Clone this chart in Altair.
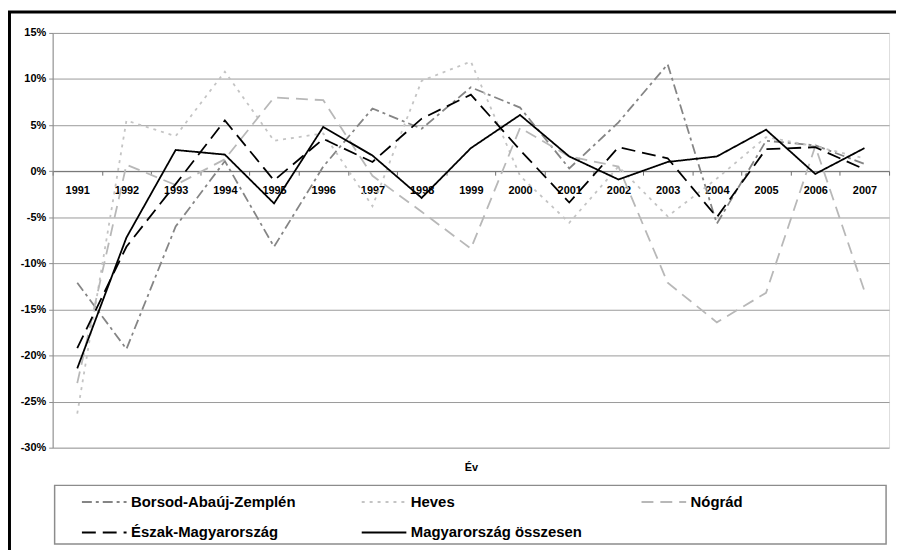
import altair as alt
import pandas as pd

years = ["1991", "1992", "1993", "1994", "1995", "1996", "1997", "1998", "1999",
         "2000", "2001", "2002", "2003", "2004", "2005", "2006", "2007"]

borsod = [-12.1, -19.3, -6.0, 1.1, -8.2, 0.5, 6.8, 4.6, 9.1, 6.9, 0.3, 5.3, 11.6, -5.7, 3.3, 2.8, 0.8]
heves = [-26.3, 5.5, 3.8, 10.8, 3.3, 4.1, -3.8, 9.8, 11.9, -0.5, -5.6, 0.5, -4.9, -0.8, 3.7, 2.7, 1.4]
nograd = [-23.0, 0.7, -1.5, 1.3, 8.0, 7.7, -0.5, -4.4, -8.4, 4.7, 1.6, 0.5, -12.1, -16.4, -13.2, 2.7, -13.0]
eszak = [-19.2, -8.2, -1.4, 5.5, -1.0, 3.5, 1.0, 5.7, 8.3, 2.3, -3.4, 2.6, 1.4, -5.0, 2.4, 2.6, 0.2]
orszag = [-21.4, -7.2, 2.3, 1.8, -3.5, 4.8, 1.7, -2.9, 2.5, 6.1, 1.6, -0.9, 1.0, 1.6, 4.5, -0.3, 2.5]

series_names = ["Borsod-Abaúj-Zemplén", "Heves", "Nógrád",
                "Észak-Magyarország", "Magyarország összesen"]
series_values = [borsod, heves, nograd, eszak, orszag]

colors = ["#858585", "#c4c4c4", "#b8b8b8", "#000000", "#000000"]
dashes = [[10, 4, 3, 4], [3, 5], [12, 7], [14, 7], [1, 0]]
widths = [1.8, 1.8, 1.8, 2.6, 2.6]

y_ticks = [-30, -25, -20, -15, -10, -5, 0, 5, 10, 15]

rows = []
for name, vals in zip(series_names, series_values):
    for yr, v in zip(years, vals):
        rows.append({"Év": yr, "sorozat": name, "érték": v})
df = pd.DataFrame(rows)

FONT = "Liberation Sans"
W, H = 843, 418
zero_offset = -(H - H * 15 / 45)

legend = alt.Legend(
    title=None, orient="none", legendX=62, legendY=465, columns=3, direction="horizontal",
    symbolType="M-8,0H1", symbolSize=100, gridAlign="all",
    columnPadding=55, rowPadding=15, padding=0,
    labelFont=FONT, labelFontSize=15, labelFontWeight="bold", labelColor="black",
    labelOffset=2, labelLimit=400,
)

lines = alt.Chart(df).mark_line(clip=False).encode(
    x=alt.X("Év:O", sort=years, bandPosition=0.5,
            scale=alt.Scale(type="band", paddingInner=0, paddingOuter=0),
            axis=alt.Axis(labelAngle=0, tickBand="extent", tickSize=4, offset=zero_offset,
                          labelFont=FONT, labelFontSize=11, labelFontWeight="bold",
                          labelColor="black", labelPadding=9, domainColor="#6e6e6e",
                          tickColor="#6e6e6e", grid=False, title="Év", titleY=299,
                          titleFont=FONT, titleFontSize=11, titleFontWeight="bold",
                          titleBaseline="middle")),
    y=alt.Y("érték:Q", scale=alt.Scale(domain=[-30, 15], nice=False, zero=False),
            axis=alt.Axis(values=y_ticks, labelExpr="datum.value + '%'", tickSize=4,
                          labelFont=FONT, labelFontSize=11, labelFontWeight="bold",
                          labelColor="black", labelPadding=3, domainColor="#8c8c8c",
                          tickColor="#8c8c8c", gridColor="#9a9a9a", title=None)),
    color=alt.Color("sorozat:N", scale=alt.Scale(domain=series_names, range=colors), legend=legend),
    strokeDash=alt.StrokeDash("sorozat:N", scale=alt.Scale(domain=series_names, range=dashes), legend=legend),
    strokeWidth=alt.StrokeWidth("sorozat:N", scale=alt.Scale(domain=series_names, range=widths), legend=legend),
)

frame = alt.Chart(alt.Data(values=[{"k": 1}])).mark_rect(
    fillOpacity=0, stroke="black", strokeWidth=3, clip=False
).encode(
    x=alt.value(-43.5), x2=alt.value(1000), y=alt.value(-21), y2=alt.value(1000)
)

legend_box = alt.Chart(alt.Data(values=[{"k": 1}])).mark_rect(
    fillOpacity=0, stroke="#8c8c8c", strokeWidth=1.5, clip=False
).encode(
    x=alt.value(2), x2=alt.value(840), y=alt.value(456), y2=alt.value(515)
)

chart = alt.layer(frame, legend_box, lines).properties(
    width=W, height=H,
    autosize=alt.AutoSizeParams(type="none"),
    padding={"left": 45, "top": 23, "right": 7, "bottom": 101},
).configure_view(stroke="#bdbdbd").configure(background="white")

chart.save("out.html", embed_options={"renderer": "svg", "actions": False})
